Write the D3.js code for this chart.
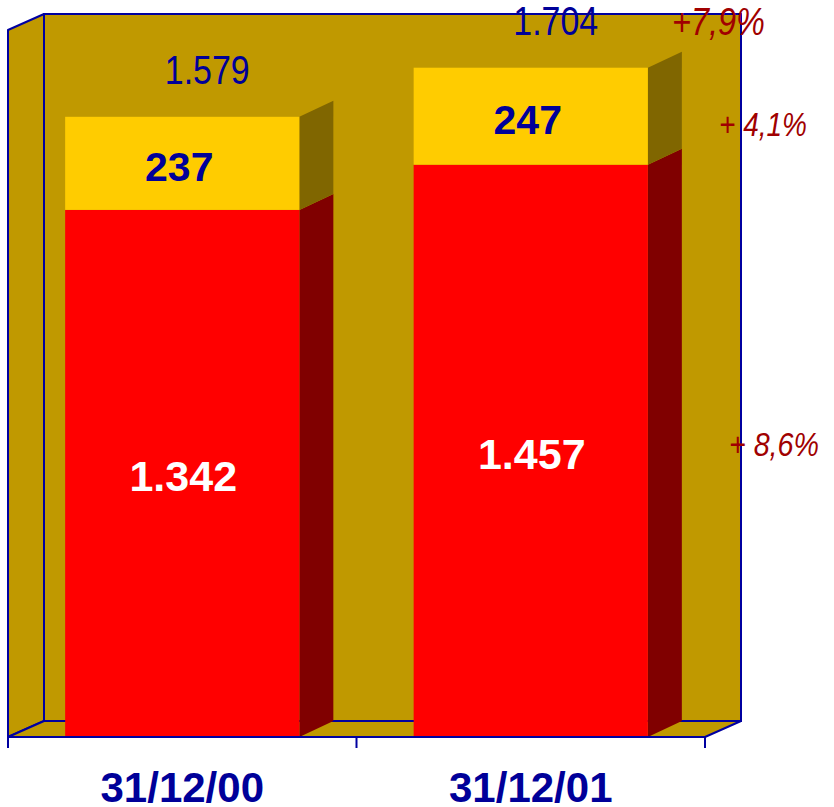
<!DOCTYPE html>
<html>
<head>
<meta charset="utf-8">
<script src="https://cdn.jsdelivr.net/npm/d3@7"></script>
<style>
  html, body { margin: 0; padding: 0; background: #ffffff; }
  svg { display: block; }
</style>
</head>
<body>
<svg id="chart" width="834" height="807"></svg>
<script>
// ---- data ----
const categories = ["31/12/00", "31/12/01"];
const baseValues = [1342, 1457];      // red segment
const topValues = [237, 247];         // yellow segment
const totalLabels = ["1.579", "1.704"];
const growthLabels = ["+7,9%", "+ 4,1%", "+ 8,6%"]; // total, yellow, red
const yDomainMax = 1800;

// ---- layout ----
const floorY = 737, topY = 30;
const x0 = 8, x1 = 705;
const wallDx = 36, wallDy = -16;
const barDx = 34, barDy = -16;

const svg = d3.select("#chart");
const y = d3.scaleLinear().domain([0, yDomainMax]).range([floorY, topY]);
const x = d3.scaleBand().domain(categories).range([x0, x1])
  .paddingInner(0.328).paddingOuter(0.164);

const wallFill = "#C09900";
const lineCol = "#0000A0";
const g = svg.append("g");
const pts = arr => arr.map(p => p.join(",")).join(" ");

// back wall
g.append("rect")
  .attr("x", x0 + wallDx).attr("y", topY + wallDy)
  .attr("width", x1 - x0).attr("height", floorY - topY)
  .attr("fill", wallFill).attr("stroke", lineCol).attr("stroke-width", 2);
// left side wall
g.append("polygon")
  .attr("points", pts([[x0, topY], [x0 + wallDx, topY + wallDy], [x0 + wallDx, floorY + wallDy], [x0, floorY]]))
  .attr("fill", wallFill).attr("stroke", lineCol).attr("stroke-width", 2).attr("stroke-linejoin", "round");
// floor
g.append("polygon")
  .attr("points", pts([[x0, floorY], [x0 + wallDx, floorY + wallDy], [x1 + wallDx, floorY + wallDy], [x1, floorY]]))
  .attr("fill", wallFill).attr("stroke", lineCol).attr("stroke-width", 2).attr("stroke-linejoin", "round");

// bars
const stacks = categories.map((c, i) => ({
  cat: c,
  segs: [
    { y0: 0, y1: baseValues[i], front: "#FF0000", side: "#800000" },
    { y0: baseValues[i], y1: baseValues[i] + topValues[i], front: "#FFCC00", side: "#806600" }
  ]
}));

stacks.forEach(s => {
  const bx = x(s.cat), bw = x.bandwidth();
  s.segs.forEach(seg => {
    const yt = y(seg.y1), yb = y(seg.y0);
    g.append("polygon")
      .attr("points", pts([[bx + bw, yt], [bx + bw + barDx, yt + barDy], [bx + bw + barDx, yb + barDy], [bx + bw, yb]]))
      .attr("fill", seg.side);
    g.append("rect")
      .attr("x", bx).attr("y", yt).attr("width", bw).attr("height", yb - yt)
      .attr("fill", seg.front);
  });
});

// front floor line + ticks
g.append("line").attr("x1", x0).attr("x2", x1).attr("y1", floorY).attr("y2", floorY)
  .attr("stroke", lineCol).attr("stroke-width", 2);
g.append("line").attr("x1", x0).attr("x2", x0).attr("y1", topY).attr("y2", floorY + 11)
  .attr("stroke", lineCol).attr("stroke-width", 2);
[x0, (x0 + x1) / 2, x1].forEach(tx => {
  g.append("line").attr("x1", tx).attr("x2", tx).attr("y1", floorY).attr("y2", floorY + 11)
    .attr("stroke", lineCol).attr("stroke-width", 2);
});

// value labels
const blue = "#000099";
const bold = "'Liberation Sans', Arial, sans-serif";
stacks.forEach((s, i) => {
  const cx = x(s.cat) + x.bandwidth() / 2;
  const redMid = (y(0) + y(baseValues[i])) / 2;
  const yelMid = (y(baseValues[i]) + y(baseValues[i] + topValues[i])) / 2;
  g.append("text").text(d3.format(",")(baseValues[i]).replace(/,/g, "."))
    .attr("x", cx + 1).attr("y", redMid + 18).attr("text-anchor", "middle")
    .attr("font-family", bold).attr("font-weight", "bold")
    .attr("font-size", 43).attr("fill", "#ffffff");
  g.append("text").text(topValues[i])
    .attr("x", cx - 3).attr("y", yelMid + 18).attr("text-anchor", "middle")
    .attr("font-family", bold).attr("font-weight", "bold")
    .attr("font-size", 41).attr("fill", blue);
  g.append("text").text(totalLabels[i])
    .attr("x", cx + 25).attr("y", y(baseValues[i] + topValues[i]) - 33).attr("text-anchor", "middle")
    .attr("font-family", bold)
    .attr("font-size", 41).attr("fill", blue)
    .attr("textLength", 85).attr("lengthAdjust", "spacingAndGlyphs");
  g.append("text").text(s.cat)
    .attr("x", cx).attr("y", 802).attr("text-anchor", "middle")
    .attr("font-family", bold).attr("font-weight", "bold")
    .attr("font-size", 42).attr("fill", blue);
});

// growth labels
const pctCol = "#A00000";
const last = categories.length - 1;
const growthPos = [
  { x: 672, y: y(baseValues[last] + topValues[last]) - 33, size: 39, len: 93 },
  { x: 719, y: (y(baseValues[last]) + y(baseValues[last] + topValues[last])) / 2 + 20, size: 33, len: 88 },
  { x: 729, y: (y(0) + y(baseValues[last])) / 2 + 5, size: 33, len: 90 }
];
growthLabels.forEach((t, i) => {
  g.append("text").text(t)
    .attr("x", growthPos[i].x).attr("y", growthPos[i].y)
    .attr("font-family", bold)
    .attr("font-style", "italic").attr("font-size", growthPos[i].size)
    .attr("fill", pctCol).attr("xml:space", "preserve")
    .attr("textLength", growthPos[i].len).attr("lengthAdjust", "spacingAndGlyphs");
});
</script>
</body>
</html>
